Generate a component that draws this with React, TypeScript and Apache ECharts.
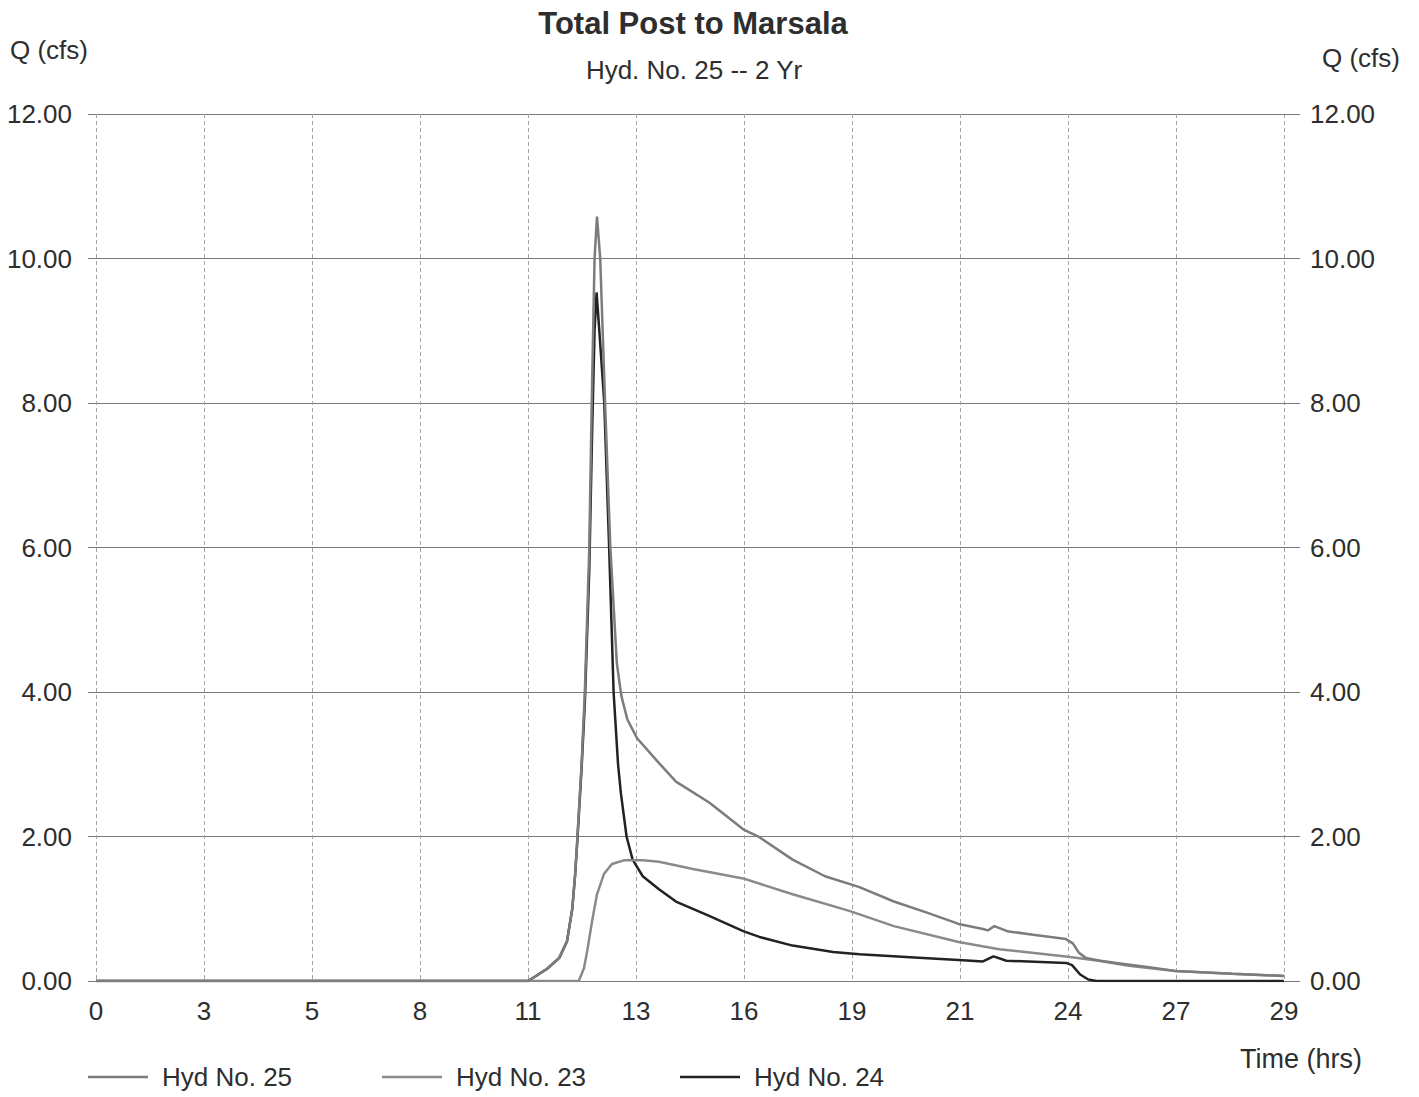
import React, { useEffect, useRef } from "react";
import * as echarts from "echarts";

// Time axis tick labels (gridlines are evenly spaced at 8/3 hr)
const xTickLabels = ["0", "3", "5", "8", "11", "13", "16", "19", "21", "24", "27", "29"];
const xMaxHours = 88 / 3;
const yMin = 0;
const yMax = 12;
const yStep = 2;

// [time (hrs), Q (cfs)]
const hyd25: number[][] = [
  [0, 0], [10.67, 0], [11.14, 0.17], [11.44, 0.32], [11.63, 0.55], [11.76, 1.0],
  [11.83, 1.47], [11.88, 1.93], [11.99, 3.0], [12.07, 4.0], [12.18, 6.0], [12.24, 8.0],
  [12.31, 10.0], [12.37, 10.58], [12.45, 10.0], [12.57, 8.0], [12.7, 6.0], [12.86, 4.4],
  [12.97, 3.95], [13.12, 3.62], [13.36, 3.36], [13.83, 3.06], [14.32, 2.76], [15.14, 2.47],
  [15.98, 2.1], [16.38, 1.99], [17.2, 1.68], [18.0, 1.45], [18.85, 1.3], [19.7, 1.1],
  [20.5, 0.95], [21.3, 0.79], [21.9, 0.72], [22.02, 0.7], [22.18, 0.76], [22.5, 0.69],
  [23.14, 0.64], [23.95, 0.58], [24.12, 0.52], [24.27, 0.39], [24.44, 0.32], [24.8, 0.28],
  [25.2, 0.25], [26.0, 0.19], [26.65, 0.14], [28.05, 0.1], [29.33, 0.07],
];

const hyd23: number[][] = [
  [0, 0], [11.92, 0], [12.05, 0.18], [12.13, 0.42], [12.25, 0.83], [12.37, 1.2],
  [12.54, 1.48], [12.74, 1.62], [13.03, 1.67], [13.5, 1.67], [13.9, 1.65], [14.74, 1.55],
  [15.98, 1.42], [17.2, 1.2], [18.6, 0.97], [19.7, 0.76], [21.3, 0.54], [22.3, 0.44],
  [23.95, 0.34], [24.76, 0.28], [25.5, 0.21], [26.65, 0.14], [28.05, 0.1], [29.33, 0.07],
];

const hyd24: number[][] = [
  [0, 0], [10.67, 0], [11.14, 0.17], [11.44, 0.32], [11.63, 0.55], [11.76, 1.0],
  [11.83, 1.47], [11.88, 1.9], [11.99, 2.95], [12.07, 3.85], [12.18, 5.7], [12.25, 7.6],
  [12.31, 9.0], [12.36, 9.53], [12.44, 8.9], [12.55, 8.0], [12.67, 6.0], [12.78, 4.0],
  [12.89, 3.0], [12.96, 2.6], [13.1, 2.0], [13.25, 1.68], [13.5, 1.45], [13.9, 1.27],
  [14.32, 1.1], [15.14, 0.9], [15.98, 0.69], [16.38, 0.61], [17.2, 0.49], [18.2, 0.4],
  [18.85, 0.37], [20.1, 0.33], [21.3, 0.29], [21.9, 0.27], [22.16, 0.34], [22.48, 0.28],
  [23.95, 0.25], [24.1, 0.22], [24.3, 0.09], [24.5, 0.02], [24.7, 0], [29.33, 0],
];

const seriesNames = ["Hyd No. 25", "Hyd No. 23", "Hyd No. 24"];
const seriesColors = ["#7c7c7c", "#8a8a8a", "#222222"];
const seriesZ = [6, 5, 4];

const FONT = "Liberation Sans";
const TEXT = "#2e2e2e";

export default function App() {
  const ref = useRef<HTMLDivElement>(null);

  useEffect(() => {
    if (!ref.current) return;
    const chart = echarts.init(ref.current, undefined, { renderer: "svg" });
    const datasets = [hyd25, hyd23, hyd24];
    const legendLefts = [88, 382, 680];
    chart.setOption({
      animation: false,
      backgroundColor: "#ffffff",
      grid: { left: 96, right: 135, top: 114, bottom: 116 },
      xAxis: [
        { type: "value", min: 0, max: xMaxHours, show: false },
        {
          type: "category",
          data: xTickLabels,
          boundaryGap: false,
          position: "bottom",
          axisLine: { show: false },
          axisTick: { show: false },
          axisLabel: { fontSize: 26, color: TEXT, margin: 17, fontFamily: FONT, interval: 0 },
          splitLine: { show: true, interval: 0, lineStyle: { color: "#a3a3a3", width: 1, type: [4, 3] } },
        },
      ],
      yAxis: [
        {
          type: "value",
          min: yMin,
          max: yMax,
          interval: yStep,
          position: "left",
          axisLine: { show: false },
          axisTick: { show: true, length: 8, lineStyle: { color: "#7a7a7a" } },
          axisLabel: { formatter: (v: number) => v.toFixed(2), fontSize: 26, color: TEXT, margin: 24, fontFamily: FONT },
          splitLine: { show: true, lineStyle: { color: "#7a7a7a", width: 1 } },
        },
        {
          type: "value",
          min: yMin,
          max: yMax,
          interval: yStep,
          position: "right",
          axisLine: { show: false },
          axisTick: { show: true, length: 16, lineStyle: { color: "#7a7a7a" } },
          axisLabel: { formatter: (v: number) => v.toFixed(2), fontSize: 26, color: TEXT, margin: 26, fontFamily: FONT },
          splitLine: { show: false },
        },
      ],
      legend: seriesNames.map((n, i) => ({
        data: [n],
        left: legendLefts[i],
        top: 1064,
        padding: 0,
        icon: "rect",
        itemWidth: 60,
        itemHeight: 2.5,
        textStyle: { fontSize: 26, color: TEXT, fontFamily: FONT, padding: [0, 0, 0, 9] },
      })),
      series: seriesNames.map((n, i) => ({
        name: n,
        type: "line",
        xAxisIndex: 0,
        yAxisIndex: 0,
        data: datasets[i],
        symbol: "none",
        showSymbol: false,
        color: seriesColors[i],
        lineStyle: { color: seriesColors[i], width: 2.5 },
        z: seriesZ[i],
      })),
      graphic: [
        {
          type: "text", x: 693, y: 23,
          style: { text: "Total Post to Marsala", fontSize: 31, fontWeight: "bold", fontFamily: FONT, fill: TEXT, align: "center", verticalAlign: "middle" },
        },
        {
          type: "text", x: 694, y: 70,
          style: { text: "Hyd. No. 25 -- 2 Yr", fontSize: 26, fontFamily: FONT, fill: TEXT, align: "center", verticalAlign: "middle" },
        },
        {
          type: "text", x: 10, y: 50,
          style: { text: "Q (cfs)", fontSize: 26, fontFamily: FONT, fill: TEXT, align: "left", verticalAlign: "middle" },
        },
        {
          type: "text", x: 1322, y: 58,
          style: { text: "Q (cfs)", fontSize: 26, fontFamily: FONT, fill: TEXT, align: "left", verticalAlign: "middle" },
        },
        {
          type: "text", x: 1240, y: 1059,
          style: { text: "Time (hrs)", fontSize: 27, fontFamily: FONT, fill: TEXT, align: "left", verticalAlign: "middle" },
        },
      ],
    });
    return () => chart.dispose();
  }, []);

  return (
    <div
      ref={ref}
      style={{ position: "absolute", left: 0, top: 0, width: 1419, height: 1097, background: "#fff" }}
    />
  );
}
